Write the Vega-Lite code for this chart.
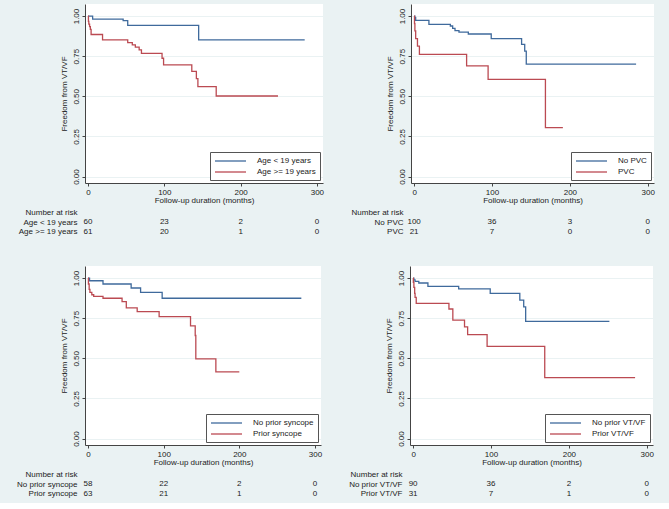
{
  "$schema": "https://vega.github.io/schema/vega-lite/v6.json",
  "background": "#EAF2F3",
  "padding": {"left": 16, "top": 4, "right": 14, "bottom": 4},
  "config": {
    "font": "Liberation Sans",
    "axis": {"labelFontSize": 8, "titleFontSize": 8, "titleFontWeight": "normal", "labelColor": "#222", "titleColor": "#222", "domainColor": "#444", "tickColor": "#444", "labelFlush": false, "labelOverlap": false},
    "legend": {"title": null, "orient": "bottom-right", "offset": 3, "symbolType": "M-1,0H6.75", "symbolSize": 64, "symbolStrokeWidth": 1.3, "labelFontSize": 8, "labelColor": "#222", "fillColor": "white", "strokeColor": "#555", "padding": 4, "rowPadding": 2, "labelOffset": 33},
    "concat": {"spacing": 26}
  },
  "resolve": {"scale": {"color": "independent"}, "legend": {"color": "independent"}},
  "vconcat": [
    {
      "hconcat": [
        {
          "spacing": 4,
          "resolve": {"scale": {"color": "independent"}, "legend": {"color": "independent"}},
          "vconcat": [
            {
              "width": 238, "height": 179,
              "view": {"fill": "white", "stroke": null},
              "data": {"values": [
                {"group": "Age < 19 years", "t": 0, "s": 1.0},
                {"group": "Age < 19 years", "t": 6, "s": 0.981},
                {"group": "Age < 19 years", "t": 46, "s": 0.971},
                {"group": "Age < 19 years", "t": 52, "s": 0.942},
                {"group": "Age < 19 years", "t": 145, "s": 0.851},
                {"group": "Age < 19 years", "t": 284, "s": 0.851},
                {"group": "Age >= 19 years", "t": 0, "s": 1.0},
                {"group": "Age >= 19 years", "t": 0.5, "s": 0.967},
                {"group": "Age >= 19 years", "t": 1, "s": 0.95},
                {"group": "Age >= 19 years", "t": 2, "s": 0.934},
                {"group": "Age >= 19 years", "t": 3, "s": 0.917},
                {"group": "Age >= 19 years", "t": 4, "s": 0.885},
                {"group": "Age >= 19 years", "t": 19, "s": 0.851},
                {"group": "Age >= 19 years", "t": 52, "s": 0.834},
                {"group": "Age >= 19 years", "t": 58, "s": 0.82},
                {"group": "Age >= 19 years", "t": 62, "s": 0.806},
                {"group": "Age >= 19 years", "t": 67, "s": 0.789},
                {"group": "Age >= 19 years", "t": 70, "s": 0.768},
                {"group": "Age >= 19 years", "t": 97, "s": 0.737},
                {"group": "Age >= 19 years", "t": 99, "s": 0.696},
                {"group": "Age >= 19 years", "t": 136, "s": 0.655},
                {"group": "Age >= 19 years", "t": 142, "s": 0.61},
                {"group": "Age >= 19 years", "t": 144, "s": 0.56},
                {"group": "Age >= 19 years", "t": 168, "s": 0.502},
                {"group": "Age >= 19 years", "t": 249, "s": 0.502}
              ]},
              "mark": {"type": "line", "interpolate": "step-after", "strokeWidth": 1.3},
              "encoding": {
                "x": {"field": "t", "type": "quantitative", "scale": {"domain": [-4, 308], "nice": false, "zero": false},
                      "axis": {"values": [0, 100, 200, 300], "grid": false, "tickSize": 3, "labelPadding": 2, "title": "Follow-up duration (months)", "titlePadding": 0}},
                "y": {"field": "s", "type": "quantitative", "scale": {"domain": [-0.04, 1.075], "nice": false, "zero": false},
                      "axis": {"values": [0, 0.25, 0.5, 0.75, 1], "format": ".2f", "labelAngle": -90, "tickSize": 3, "labelPadding": 2, "grid": true, "gridColor": "#EAF2F3", "title": "Freedom from VT/VF", "titlePadding": 4}},
                "color": {"field": "group", "type": "nominal", "scale": {"domain": ["Age < 19 years", "Age >= 19 years"], "range": ["#3f6a9c", "#bb4a52"]}}
              }
            },
            {
              "width": 238, "height": 28.5,
              "view": {"stroke": null},
              "data": {"values": [
                {"row": "Age < 19 years", "t": 0, "n": 60},
                {"row": "Age < 19 years", "t": 100, "n": 23},
                {"row": "Age < 19 years", "t": 200, "n": 2},
                {"row": "Age < 19 years", "t": 300, "n": 0},
                {"row": "Age >= 19 years", "t": 0, "n": 61},
                {"row": "Age >= 19 years", "t": 100, "n": 20},
                {"row": "Age >= 19 years", "t": 200, "n": 1},
                {"row": "Age >= 19 years", "t": 300, "n": 0}
              ]},
              "mark": {"type": "text", "fontSize": 8, "color": "#222"},
              "encoding": {
                "x": {"field": "t", "type": "quantitative", "scale": {"domain": [-4, 308], "nice": false, "zero": false}, "axis": null},
                "y": {"field": "row", "type": "nominal", "scale": {"type": "point", "padding": 0.5, "domain": ["Number at risk", "Age < 19 years", "Age >= 19 years"]},
                      "axis": {"title": null, "ticks": false, "tickSize": 0, "domain": false, "labelPadding": 8}},
                "text": {"field": "n", "type": "quantitative"}
              }
            }
          ]
        },
        {
          "spacing": 4,
          "resolve": {"scale": {"color": "independent"}, "legend": {"color": "independent"}},
          "vconcat": [
            {
              "width": 243, "height": 179,
              "view": {"fill": "white", "stroke": null},
              "data": {"values": [
                {"group": "No PVC", "t": 0, "s": 1.0},
                {"group": "No PVC", "t": 1, "s": 0.99},
                {"group": "No PVC", "t": 2, "s": 0.973},
                {"group": "No PVC", "t": 19, "s": 0.948},
                {"group": "No PVC", "t": 46.5, "s": 0.938},
                {"group": "No PVC", "t": 49.5, "s": 0.923},
                {"group": "No PVC", "t": 52.5, "s": 0.909},
                {"group": "No PVC", "t": 57.6, "s": 0.9},
                {"group": "No PVC", "t": 69.6, "s": 0.888},
                {"group": "No PVC", "t": 99, "s": 0.859},
                {"group": "No PVC", "t": 138, "s": 0.824},
                {"group": "No PVC", "t": 142, "s": 0.782},
                {"group": "No PVC", "t": 144, "s": 0.701},
                {"group": "No PVC", "t": 285, "s": 0.701},
                {"group": "PVC", "t": 0, "s": 1.0},
                {"group": "PVC", "t": 0.5, "s": 0.953},
                {"group": "PVC", "t": 1, "s": 0.907},
                {"group": "PVC", "t": 2, "s": 0.859},
                {"group": "PVC", "t": 4.3, "s": 0.813},
                {"group": "PVC", "t": 6.8, "s": 0.761},
                {"group": "PVC", "t": 67.4, "s": 0.69},
                {"group": "PVC", "t": 95, "s": 0.606},
                {"group": "PVC", "t": 168.6, "s": 0.305},
                {"group": "PVC", "t": 191, "s": 0.305}
              ]},
              "mark": {"type": "line", "interpolate": "step-after", "strokeWidth": 1.3},
              "encoding": {
                "x": {"field": "t", "type": "quantitative", "scale": {"domain": [-4, 308], "nice": false, "zero": false},
                      "axis": {"values": [0, 100, 200, 300], "grid": false, "tickSize": 3, "labelPadding": 2, "title": "Follow-up duration (months)", "titlePadding": 0}},
                "y": {"field": "s", "type": "quantitative", "scale": {"domain": [-0.04, 1.075], "nice": false, "zero": false},
                      "axis": {"values": [0, 0.25, 0.5, 0.75, 1], "format": ".2f", "labelAngle": -90, "tickSize": 3, "labelPadding": 2, "grid": true, "gridColor": "#EAF2F3", "title": "Freedom from VT/VF", "titlePadding": 4}},
                "color": {"field": "group", "type": "nominal", "scale": {"domain": ["No PVC", "PVC"], "range": ["#3f6a9c", "#bb4a52"]}}
              }
            },
            {
              "width": 243, "height": 28.5,
              "view": {"stroke": null},
              "data": {"values": [
                {"row": "No PVC", "t": 0, "n": 100},
                {"row": "No PVC", "t": 100, "n": 36},
                {"row": "No PVC", "t": 200, "n": 3},
                {"row": "No PVC", "t": 300, "n": 0},
                {"row": "PVC", "t": 0, "n": 21},
                {"row": "PVC", "t": 100, "n": 7},
                {"row": "PVC", "t": 200, "n": 0},
                {"row": "PVC", "t": 300, "n": 0}
              ]},
              "mark": {"type": "text", "fontSize": 8, "color": "#222"},
              "encoding": {
                "x": {"field": "t", "type": "quantitative", "scale": {"domain": [-4, 308], "nice": false, "zero": false}, "axis": null},
                "y": {"field": "row", "type": "nominal", "scale": {"type": "point", "padding": 0.5, "domain": ["Number at risk", "No PVC", "PVC"]},
                      "axis": {"title": null, "ticks": false, "tickSize": 0, "domain": false, "labelPadding": 8}},
                "text": {"field": "n", "type": "quantitative"}
              }
            }
          ]
        }
      ],
      "resolve": {"scale": {"color": "independent"}, "legend": {"color": "independent"}}
    },
    {
      "hconcat": [
        {
          "spacing": 4,
          "resolve": {"scale": {"color": "independent"}, "legend": {"color": "independent"}},
          "vconcat": [
            {
              "width": 236, "height": 179,
              "view": {"fill": "white", "stroke": null},
              "data": {"values": [
                {"group": "No prior syncope", "t": 0, "s": 1.0},
                {"group": "No prior syncope", "t": 2, "s": 0.983},
                {"group": "No prior syncope", "t": 19.8, "s": 0.963},
                {"group": "No prior syncope", "t": 57, "s": 0.938},
                {"group": "No prior syncope", "t": 69.5, "s": 0.911},
                {"group": "No prior syncope", "t": 98, "s": 0.874},
                {"group": "No prior syncope", "t": 282, "s": 0.874},
                {"group": "Prior syncope", "t": 0, "s": 1.0},
                {"group": "Prior syncope", "t": 0.5, "s": 0.963},
                {"group": "Prior syncope", "t": 1.5, "s": 0.93},
                {"group": "Prior syncope", "t": 2.5, "s": 0.911},
                {"group": "Prior syncope", "t": 5, "s": 0.896},
                {"group": "Prior syncope", "t": 7.5, "s": 0.886},
                {"group": "Prior syncope", "t": 19.8, "s": 0.874},
                {"group": "Prior syncope", "t": 45, "s": 0.853},
                {"group": "Prior syncope", "t": 50.6, "s": 0.814},
                {"group": "Prior syncope", "t": 65, "s": 0.791},
                {"group": "Prior syncope", "t": 94, "s": 0.76},
                {"group": "Prior syncope", "t": 135.5, "s": 0.702},
                {"group": "Prior syncope", "t": 141.7, "s": 0.642},
                {"group": "Prior syncope", "t": 142.5, "s": 0.497},
                {"group": "Prior syncope", "t": 169, "s": 0.416},
                {"group": "Prior syncope", "t": 200, "s": 0.416}
              ]},
              "mark": {"type": "line", "interpolate": "step-after", "strokeWidth": 1.3},
              "encoding": {
                "x": {"field": "t", "type": "quantitative", "scale": {"domain": [-4, 308], "nice": false, "zero": false},
                      "axis": {"values": [0, 100, 200, 300], "grid": false, "tickSize": 3, "labelPadding": 2, "title": "Follow-up duration (months)", "titlePadding": 0}},
                "y": {"field": "s", "type": "quantitative", "scale": {"domain": [-0.04, 1.075], "nice": false, "zero": false},
                      "axis": {"values": [0, 0.25, 0.5, 0.75, 1], "format": ".2f", "labelAngle": -90, "tickSize": 3, "labelPadding": 2, "grid": true, "gridColor": "#EAF2F3", "title": "Freedom from VT/VF", "titlePadding": 4}},
                "color": {"field": "group", "type": "nominal", "scale": {"domain": ["No prior syncope", "Prior syncope"], "range": ["#3f6a9c", "#bb4a52"]}}
              }
            },
            {
              "width": 236, "height": 28.5,
              "view": {"stroke": null},
              "data": {"values": [
                {"row": "No prior syncope", "t": 0, "n": 58},
                {"row": "No prior syncope", "t": 100, "n": 22},
                {"row": "No prior syncope", "t": 200, "n": 2},
                {"row": "No prior syncope", "t": 300, "n": 0},
                {"row": "Prior syncope", "t": 0, "n": 63},
                {"row": "Prior syncope", "t": 100, "n": 21},
                {"row": "Prior syncope", "t": 200, "n": 1},
                {"row": "Prior syncope", "t": 300, "n": 0}
              ]},
              "mark": {"type": "text", "fontSize": 8, "color": "#222"},
              "encoding": {
                "x": {"field": "t", "type": "quantitative", "scale": {"domain": [-4, 308], "nice": false, "zero": false}, "axis": null},
                "y": {"field": "row", "type": "nominal", "scale": {"type": "point", "padding": 0.5, "domain": ["Number at risk", "No prior syncope", "Prior syncope"]},
                      "axis": {"title": null, "ticks": false, "tickSize": 0, "domain": false, "labelPadding": 8}},
                "text": {"field": "n", "type": "quantitative"}
              }
            }
          ]
        },
        {
          "spacing": 4,
          "resolve": {"scale": {"color": "independent"}, "legend": {"color": "independent"}},
          "vconcat": [
            {
              "width": 243, "height": 179,
              "view": {"fill": "white", "stroke": null},
              "data": {"values": [
                {"group": "No prior VT/VF", "t": 0, "s": 1.0},
                {"group": "No prior VT/VF", "t": 1, "s": 0.988},
                {"group": "No prior VT/VF", "t": 2.5, "s": 0.979},
                {"group": "No prior VT/VF", "t": 7.3, "s": 0.969},
                {"group": "No prior VT/VF", "t": 19, "s": 0.948},
                {"group": "No prior VT/VF", "t": 58.5, "s": 0.933},
                {"group": "No prior VT/VF", "t": 99, "s": 0.904},
                {"group": "No prior VT/VF", "t": 137, "s": 0.863},
                {"group": "No prior VT/VF", "t": 142, "s": 0.821},
                {"group": "No prior VT/VF", "t": 144.5, "s": 0.73},
                {"group": "No prior VT/VF", "t": 252, "s": 0.73},
                {"group": "Prior VT/VF", "t": 0, "s": 1.0},
                {"group": "Prior VT/VF", "t": 0.3, "s": 0.973},
                {"group": "Prior VT/VF", "t": 1, "s": 0.942},
                {"group": "Prior VT/VF", "t": 2, "s": 0.904},
                {"group": "Prior VT/VF", "t": 2.5, "s": 0.879},
                {"group": "Prior VT/VF", "t": 4, "s": 0.842},
                {"group": "Prior VT/VF", "t": 46, "s": 0.807},
                {"group": "Prior VT/VF", "t": 51, "s": 0.738},
                {"group": "Prior VT/VF", "t": 66, "s": 0.696},
                {"group": "Prior VT/VF", "t": 70, "s": 0.647},
                {"group": "Prior VT/VF", "t": 95, "s": 0.574},
                {"group": "Prior VT/VF", "t": 169, "s": 0.38},
                {"group": "Prior VT/VF", "t": 285, "s": 0.38}
              ]},
              "mark": {"type": "line", "interpolate": "step-after", "strokeWidth": 1.3},
              "encoding": {
                "x": {"field": "t", "type": "quantitative", "scale": {"domain": [-4, 308], "nice": false, "zero": false},
                      "axis": {"values": [0, 100, 200, 300], "grid": false, "tickSize": 3, "labelPadding": 2, "title": "Follow-up duration (months)", "titlePadding": 0}},
                "y": {"field": "s", "type": "quantitative", "scale": {"domain": [-0.04, 1.075], "nice": false, "zero": false},
                      "axis": {"values": [0, 0.25, 0.5, 0.75, 1], "format": ".2f", "labelAngle": -90, "tickSize": 3, "labelPadding": 2, "grid": true, "gridColor": "#EAF2F3", "title": "Freedom from VT/VF", "titlePadding": 4}},
                "color": {"field": "group", "type": "nominal", "scale": {"domain": ["No prior VT/VF", "Prior VT/VF"], "range": ["#3f6a9c", "#bb4a52"]}}
              }
            },
            {
              "width": 243, "height": 28.5,
              "view": {"stroke": null},
              "data": {"values": [
                {"row": "No prior VT/VF", "t": 0, "n": 90},
                {"row": "No prior VT/VF", "t": 100, "n": 36},
                {"row": "No prior VT/VF", "t": 200, "n": 2},
                {"row": "No prior VT/VF", "t": 300, "n": 0},
                {"row": "Prior VT/VF", "t": 0, "n": 31},
                {"row": "Prior VT/VF", "t": 100, "n": 7},
                {"row": "Prior VT/VF", "t": 200, "n": 1},
                {"row": "Prior VT/VF", "t": 300, "n": 0}
              ]},
              "mark": {"type": "text", "fontSize": 8, "color": "#222"},
              "encoding": {
                "x": {"field": "t", "type": "quantitative", "scale": {"domain": [-4, 308], "nice": false, "zero": false}, "axis": null},
                "y": {"field": "row", "type": "nominal", "scale": {"type": "point", "padding": 0.5, "domain": ["Number at risk", "No prior VT/VF", "Prior VT/VF"]},
                      "axis": {"title": null, "ticks": false, "tickSize": 0, "domain": false, "labelPadding": 8}},
                "text": {"field": "n", "type": "quantitative"}
              }
            }
          ]
        }
      ],
      "resolve": {"scale": {"color": "independent"}, "legend": {"color": "independent"}}
    }
  ],
  "spacing": 29
}
